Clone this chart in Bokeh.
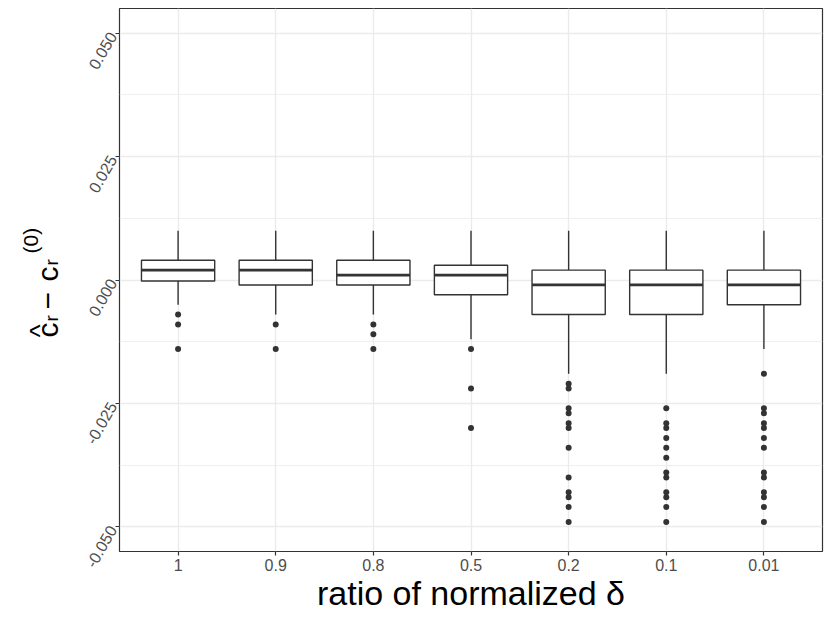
import math
from bokeh.plotting import figure
from bokeh.layouts import row
from bokeh.models import FactorRange, Range1d, FixedTicker, ColumnDataSource, PrintfTickFormatter
from bokeh.core.properties import value
from bokeh.transform import dodge
from bokeh.embed import file_html
from bokeh.resources import INLINE

# ---- data ----
categories = ["1", "0.9", "0.8", "0.5", "0.2", "0.1", "0.01"]
q1 = [-0.0002, -0.001, -0.001, -0.003, -0.007, -0.007, -0.005]
median = [0.002, 0.002, 0.001, 0.001, -0.001, -0.001, -0.001]
q3 = [0.004, 0.004, 0.004, 0.003, 0.002, 0.002, 0.002]
lower_whisker = [-0.005, -0.007, -0.007, -0.012, -0.019, -0.019, -0.014]
upper_whisker = [0.010, 0.010, 0.010, 0.010, 0.010, 0.010, 0.010]
outliers = {
    "1": [-0.007, -0.009, -0.014],
    "0.9": [-0.009, -0.014],
    "0.8": [-0.009, -0.011, -0.014],
    "0.5": [-0.014, -0.022, -0.030],
    "0.2": [-0.021, -0.022, -0.026, -0.027, -0.029, -0.030, -0.034, -0.040,
            -0.043, -0.044, -0.046, -0.049],
    "0.1": [-0.026, -0.029, -0.030, -0.032, -0.034, -0.036, -0.039, -0.040,
            -0.043, -0.044, -0.046, -0.049],
    "0.01": [-0.019, -0.026, -0.027, -0.029, -0.030, -0.032, -0.034, -0.039,
             -0.040, -0.043, -0.044, -0.046, -0.049],
}
y_ticks = [-0.05, -0.025, 0.0, 0.025, 0.05]
y_minor = [-0.0375, -0.0125, 0.0125, 0.0375]
x_title = "ratio of normalized δ"
# y title pieces: hat(c)[r] - c[r]^(0)
ytitle_text = ["c", "^", "r", "\u2212", "c", "r", "(0)"]
ytitle_size = ["30px", "28px", "19px", "30px", "30px", "19px", "21px"]

DARK = "#333333"
GRID = "#EBEBEB"
FONT = "Liberation Sans"
W, H = 830, 623
TW = 70      # width of the y-title strip
OFF = 8      # vertical offset of the strip's frame (measured)

# ---- y-title strip (pixel-sized data space) ----
yt = figure(frame_width=TW, frame_height=H, output_backend="svg", toolbar_location=None,
            title=None, x_range=Range1d(0, TW), y_range=Range1d(0, H),
            min_border=0, x_axis_type=None, y_axis_type=None)
yt.outline_line_color = None
yt.grid.visible = False
ypos_x = [47, 39, 51, 47, 47, 51, 30]
ypos_y = [337, 337, 321, 309, 281, 265, 253]
for t, xx, yy, s in zip(ytitle_text, ypos_x, ypos_y, ytitle_size):
    yt.text(x=[xx], y=[H - yy + OFF], text=[t], angle=math.pi / 2,
            text_font=value(FONT), text_font_size=s, text_color="black",
            text_align="left", text_baseline="alphabetic")

# ---- main plot ----
p = figure(width=W - TW, height=H, output_backend="svg", toolbar_location=None,
           x_range=FactorRange(*categories, range_padding=0.1, range_padding_units="absolute"),
           y_range=Range1d(-0.055, 0.055),
           min_border_left=119 - TW, min_border_right=8, min_border_top=8, min_border_bottom=72)
p.background_fill_color = "white"
p.border_fill_color = "white"
p.outline_line_color = DARK
p.outline_line_width = 1.2

p.xgrid.grid_line_color = GRID
p.xgrid.grid_line_width = 1.4
p.ygrid.grid_line_color = GRID
p.ygrid.grid_line_width = 1.4
p.ygrid.minor_grid_line_color = GRID
p.ygrid.minor_grid_line_width = 0.8

p.yaxis.ticker = FixedTicker(ticks=y_ticks, minor_ticks=y_minor)
p.yaxis.formatter = PrintfTickFormatter(format="%.3f")
for ax in (p.xaxis[0], p.yaxis[0]):
    ax.axis_line_color = None
    ax.major_tick_line_color = DARK
    ax.major_tick_line_width = 1.2
    ax.major_tick_out = 4
    ax.major_tick_in = 0
    ax.minor_tick_line_color = None
    ax.major_label_text_font = FONT
    ax.major_label_text_font_size = "16px"
    ax.major_label_text_color = "#4D4D4D"
p.xaxis.major_label_standoff = 3
p.yaxis.major_label_standoff = 3
p.yaxis.major_label_orientation = math.pi / 3
p.xaxis.axis_label = x_title
p.xaxis.axis_label_text_font = FONT
p.xaxis.axis_label_text_font_size = "34px"
p.xaxis.axis_label_text_font_style = "normal"
p.xaxis.axis_label_text_color = "black"
p.xaxis.axis_label_standoff = 0

src = ColumnDataSource(dict(cat=categories, q1=q1, med=median, q3=q3,
                            lw=lower_whisker, uw=upper_whisker))

p.segment(x0="cat", y0="q3", x1="cat", y1="uw", source=src, line_color=DARK, line_width=1.4)
p.segment(x0="cat", y0="q1", x1="cat", y1="lw", source=src, line_color=DARK, line_width=1.4)
p.vbar(x="cat", top="q3", bottom="q1", width=0.75, source=src,
       fill_color="white", line_color=DARK, line_width=1.4)
p.segment(x0=dodge("cat", -0.375, range=p.x_range), y0="med",
          x1=dodge("cat", 0.375, range=p.x_range), y1="med",
          source=src, line_color=DARK, line_width=2.8)
ox, oy = [], []
for c in categories:
    for v in outliers[c]:
        ox.append(c)
        oy.append(v)
p.scatter(x=ox, y=oy, size=6, fill_color=DARK, line_color=DARK, line_width=0)

layout = row(yt, p, spacing=0)
open("out.html", "w").write(file_html(layout, INLINE))
